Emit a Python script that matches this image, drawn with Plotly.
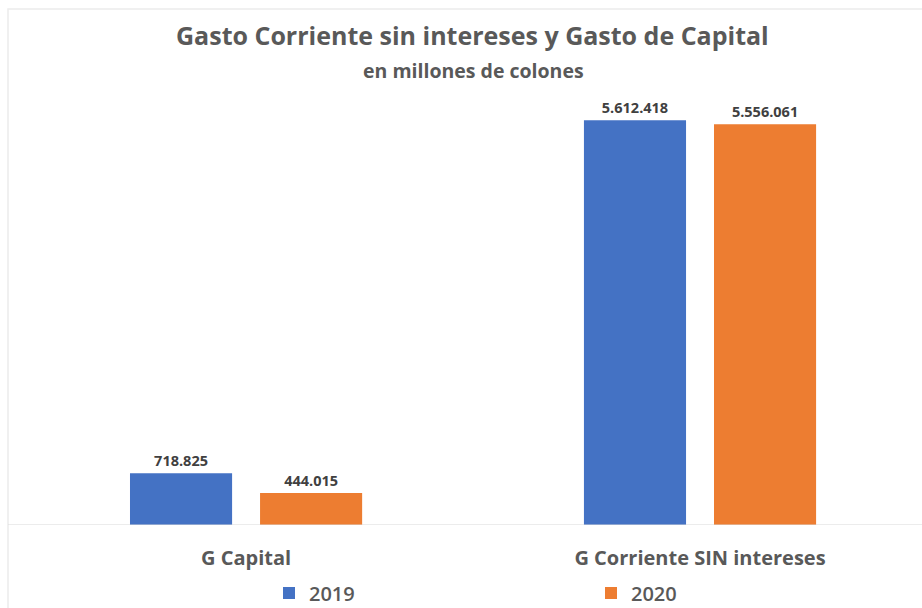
import plotly.graph_objects as go

# Spending categories and yearly totals (millions of colones)
categories = ["G Capital", "G Corriente SIN intereses"]
years = ["2019", "2020"]
values_2019 = [718825, 5612418]
values_2020 = [444015, 5556061]
colors = {"2019": "#4472C4", "2020": "#ED7D31"}

W, H = 922, 608
ML, MR, MT, MB = 20, 0, 100, 83
plot_w = W - ML - MR
plot_h = H - MT - MB

font_family = "'Open Sans', 'Noto Sans', sans-serif"
grey = "#595959"

fig = go.Figure()
for year, vals in zip(years, [values_2019, values_2020]):
    fig.add_trace(go.Bar(
        name=year,
        x=categories,
        y=vals,
        marker=dict(color=colors[year], line=dict(width=0)),
        text=vals,
        texttemplate="%{y:,}",
        textposition="outside",
        cliponaxis=False,
        textfont=dict(family=font_family, size=14.5, color="#404040", weight="bold"),
    ))

ymax = max(values_2019 + values_2020) * 1.05

# faint outer frame and category baseline
shapes = [
    dict(type="rect", xref="paper", yref="paper",
         x0=(8 - ML) / plot_w, x1=(W + 5 - ML) / plot_w,
         y0=-(MB + 5) / plot_h, y1=1 + (MT - 9) / plot_h,
         line=dict(color="#ececec", width=1.5), fillcolor="rgba(0,0,0,0)", layer="below"),
    dict(type="line", xref="paper", yref="y",
         x0=(8 - ML) / plot_w, x1=1, y0=0, y1=0,
         line=dict(color="#d9d9d9", width=1.2)),
]

annotations = [
    dict(text="Gasto Corriente sin intereses y Gasto de Capital",
         xref="paper", yref="paper", x=(472 - ML) / plot_w, y=1 + (MT - 35) / plot_h,
         xanchor="center", yanchor="middle", showarrow=False,
         font=dict(family=font_family, size=25, color=grey, weight="bold")),
    dict(text="en millones de colones",
         xref="paper", yref="paper", x=(473 - ML) / plot_w, y=1 + (MT - 70) / plot_h,
         xanchor="center", yanchor="middle", showarrow=False,
         font=dict(family=font_family, size=19.5, color=grey, weight="bold")),
]

fig.update_layout(
    width=W, height=H,
    margin=dict(l=ML, r=MR, t=MT, b=MB, pad=0, autoexpand=False),
    paper_bgcolor="white",
    plot_bgcolor="white",
    separators=",.",
    barmode="group",
    bargap=0.427,
    bargroupgap=0.215,
    showlegend=True,
    shapes=shapes,
    annotations=annotations,
    xaxis=dict(
        range=[-0.498, 1.489],
        showline=False, showgrid=False, zeroline=False, ticks="",
        tickfont=dict(family=font_family, size=20, color=grey, weight="bold"),
        ticklabelstandoff=19,
    ),
    yaxis=dict(
        range=[0, ymax], visible=False, showgrid=False, zeroline=False,
    ),
    legend=dict(
        orientation="h",
        xref="container", yref="container",
        x=269 / W, xanchor="left",
        y=1 - 593 / H, yanchor="middle",
        entrywidth=277,
        font=dict(family=font_family, size=20, color=grey, weight=600),
        itemclick=False,
    ),
)

fig.write_html("out.html")
